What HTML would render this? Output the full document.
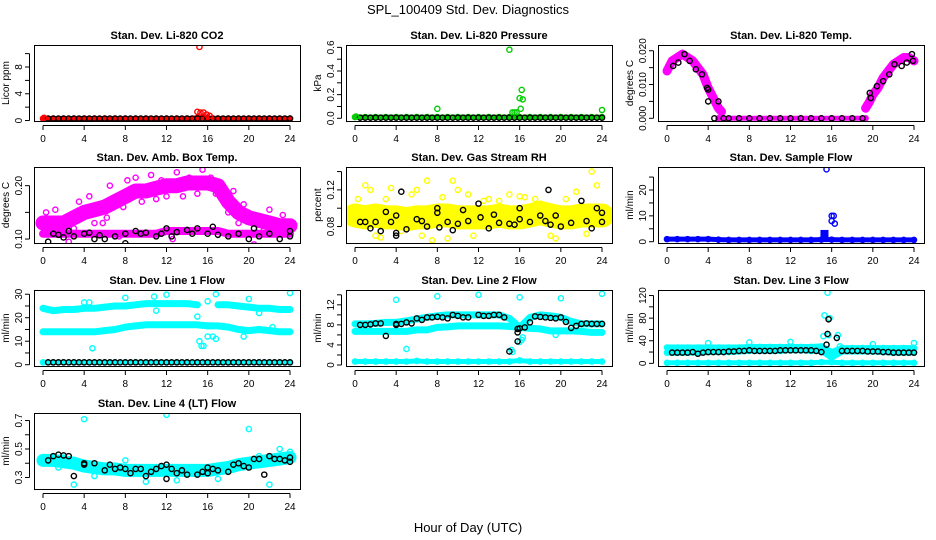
<!DOCTYPE html>
<html><head><meta charset="utf-8"><style>
html,body{margin:0;padding:0;background:#fff;}
svg{display:block;font-family:"Liberation Sans",sans-serif;}
</style></head><body>
<svg id="chart" width="936" height="540" viewBox="0 0 936 540">
<text x="468" y="14" text-anchor="middle" font-size="13">SPL_100409  Std. Dev. Diagnostics</text>
<text x="468" y="532" text-anchor="middle" font-size="13">Hour of Day (UTC)</text>
</svg>
<script>
const HOURS=[0,1,2,3,4,5,6,7,8,9,10,11,12,13,14,15,16,17,18,19,20,21,22,23,24];
const HALF=[0.5,1,1.5,2,2.5,3,3.5,4,4.5,5,5.5,6,6.5,7,7.5,8,8.5,9,9.5,10,10.5,11,11.5,12,12.5,13,13.5,14,14.5,15,15.5,16,16.5,17,17.5,18,18.5,19,19.5,20,20.5,21,21.5,22,22.5,23,23.5,24];
const X_TICKS=[0,4,8,12,16,20,24];

// CO2
const co2Band=[0.3,0.3,0.3,0.3,0.3,0.3,0.3,0.3,0.3,0.3,0.3,0.3,0.3,0.3,0.3,0.4,0.4,0.3,0.3,0.3,0.3,0.3,0.3,0.3,0.3];
const co2Black=[0.3,0.3,0.3,0.3,0.3,0.3,0.3,0.3,0.3,0.3,0.3,0.3,0.3,0.3,0.3,0.3,0.3,0.3,0.3,0.3,0.3,0.3,0.3,0.3,0.3,0.3,0.3,0.3,0.3,0.3,0.3,0.3,0.3,0.3,0.3,0.3,0.3,0.3,0.3,0.3,0.3,0.3,0.3,0.3,0.3,0.3,0.3,0.3];
const co2OutH=[15.2,15.0,15.3,15.6,15.9,16.2,0.1];
const co2OutV=[11,1.3,1.2,1.2,0.9,0.7,0.4];
// Pressure
const presBand=[0.01,0.01,0.01,0.01,0.01,0.01,0.01,0.01,0.01,0.01,0.01,0.01,0.01,0.01,0.01,0.01,0.01,0.01,0.01,0.01,0.01,0.01,0.01,0.01,0.01];
const presBlack=[0.005,0.005,0.005,0.005,0.005,0.005,0.005,0.005,0.005,0.005,0.005,0.005,0.005,0.005,0.005,0.005,0.005,0.005,0.005,0.005,0.005,0.005,0.005,0.005,0.005,0.005,0.005,0.005,0.005,0.005,0.005,0.005,0.005,0.005,0.005,0.005,0.005,0.005,0.005,0.005,0.005,0.005,0.005,0.005,0.005,0.005,0.005,0.005];
const presOutH=[15,8,16.2,16.0,16.3,16.1,15.3,15.5,15.7,24,0.1];
const presOutV=[0.58,0.08,0.24,0.17,0.16,0.08,0.05,0.05,0.05,0.07,0.015];
// Li-820 Temp
const tempAH=[0,0.5,1,1.5,2,2.5,3,3.5,4,4.5,5,5.3];
const tempAV=[0.014,0.017,0.018,0.019,0.018,0.017,0.015,0.013,0.009,0.006,0.003,0.002];
const tempZH=[5,19.3];
const tempZV=[0,0];
const tempBH=[19.3,19.7,20,20.5,21,21.5,22,22.5,23,23.5,24];
const tempBV=[0.003,0.005,0.007,0.009,0.012,0.014,0.016,0.017,0.018,0.018,0.017];
const tempBlackH=[0.6,1.1,1.7,2.2,2.8,3.4,3.9,4.0,4.0,5.0,4.6,5.5,6,7,8,9,10,11,12,13,14,15,16,17,18,19,19.7,19.8,20.4,21,21.6,22.1,22.8,23.3,23.8,23.9];
const tempBlackV=[0.0155,0.0165,0.019,0.017,0.0145,0.013,0.009,0.0085,0.005,0.005,0,0,0,0,0,0,0,0,0,0,0,0,0,0,0,0,0.0075,0.006,0.0095,0.011,0.013,0.016,0.0155,0.0165,0.019,0.017];
// Amb box temp
const ambUpper=[0.13,0.13,0.13,0.14,0.15,0.155,0.16,0.17,0.18,0.19,0.19,0.195,0.2,0.2,0.205,0.205,0.205,0.2,0.17,0.15,0.14,0.135,0.13,0.125,0.125];
const ambLower=[0.11,0.11,0.11,0.11,0.11,0.11,0.11,0.11,0.11,0.11,0.11,0.11,0.115,0.115,0.115,0.115,0.115,0.115,0.11,0.11,0.11,0.11,0.11,0.11,0.11];
const ambScatH=[0.3,1.2,2.5,3.5,4.5,5.8,6.5,8.2,9,10.5,11.5,13,14.2,15.5,16.3,17.2,18.5,19.5,20.5,22,23.3,7.4,12.6,1.8,3,5,6.2,7.8,9.6,11,12,13.6,15,16.8,18,19,21,22.6,23.8];
const ambScatV=[0.15,0.155,0.095,0.17,0.18,0.13,0.2,0.21,0.215,0.22,0.21,0.225,0.215,0.23,0.215,0.245,0.19,0.165,0.09,0.155,0.145,0.105,0.1,0.12,0.12,0.13,0.14,0.16,0.17,0.175,0.18,0.18,0.185,0.185,0.15,0.13,0.12,0.115,0.12];
const ambBlackH=[0.5,1,1.5,2,2.5,3,4,4.5,5,5.5,6,7,8,8,9,9.5,10,11,11.5,12,12.5,13,14,14.5,15,16,16.5,17,18,19,20,20.5,21,22,23,24,24];
const ambBlackV=[0.095,0.11,0.108,0.103,0.115,0.105,0.11,0.112,0.1,0.107,0.1,0.105,0.11,0.092,0.115,0.11,0.112,0.105,0.11,0.12,0.105,0.113,0.117,0.11,0.12,0.11,0.123,0.108,0.105,0.11,0.1,0.12,0.105,0.11,0.1,0.115,0.105];
// RH
const rhBand=[0.092,0.09,0.092,0.09,0.09,0.088,0.09,0.09,0.092,0.092,0.09,0.09,0.09,0.09,0.092,0.09,0.09,0.092,0.095,0.092,0.09,0.09,0.092,0.092,0.092];
const rhScatH=[0.3,1,1.5,2,3,3.5,4.5,5.5,6.5,7,7.5,8.5,9.5,10,11,11.5,13,14,15,16.5,17.5,18,19,20.5,21.5,23,23.5,2.5,6,9,12.5,16,19.5,22.5];
const rhScatV=[0.11,0.125,0.12,0.07,0.11,0.122,0.075,0.115,0.07,0.13,0.065,0.112,0.13,0.12,0.115,0.07,0.11,0.108,0.115,0.112,0.11,0.105,0.07,0.11,0.118,0.14,0.125,0.068,0.12,0.067,0.108,0.113,0.067,0.072];
const rhBlackH=[0.5,1,1.5,2,2.5,3,3.5,4,4,4,4.5,5,6,6.5,7,8,8,8.2,9,9.5,10,10.5,11,12,12.2,13,13.5,14,15,15.5,16,16,17,18,18.5,18.8,19,19.5,20,21,22,22.5,23,23.5,24,24];
const rhBlackV=[0.085,0.085,0.078,0.085,0.075,0.096,0.085,0.092,0.073,0.07,0.118,0.077,0.088,0.086,0.08,0.1,0.095,0.079,0.085,0.076,0.083,0.098,0.086,0.105,0.09,0.078,0.093,0.084,0.083,0.082,0.088,0.1,0.085,0.092,0.086,0.12,0.082,0.092,0.08,0.084,0.108,0.086,0.078,0.1,0.095,0.085];
// Sample flow
const sfBand=[1,1,1,1,1,0.8,0.7,0.7,0.7,0.7,0.7,0.7,0.7,0.7,0.7,0.8,0.8,0.7,0.7,0.7,0.7,0.7,0.7,0.7,0.7];
const sfOutH=[15.5,16.0,16.2,16.0,16.3];
const sfOutV=[28,10,10,8,7];
const sfSquareH=[15.3];
const sfSquareV=[3];
// Line 1
const l1Top=[24,23,23.5,23.5,24,24,24.5,25,25,25.5,26,26,26,26,26,25.5,null,25.5,25.5,25,24.5,24,24,23.5,23.5];
const l1Mid=[14,14,14,14,14,14,14.5,15,16,16.5,17,17,17,17,17,17,16.5,16.5,16,15,14.5,15,14.5,14,14];
const l1Low=[1,1,1,1,1,1,1,1,1,1,1,1,1,1,1,1,1,1,1,1,1,1,1,1,1];
const l1OutH=[15.2,15.4,15.6,16,16.5,16.8,4.8,15,16,16.8,24,12,8,20,4,4.5,10.8,11,19.5,21,22.3];
const l1OutV=[10,8,8,12,12,11,7,20.5,27,30,30.5,29.8,28.5,28,26.5,26.5,29,23,12,22,16];
const l1Black=[1,1,1,1,1,1,1,1,1,1,1,1,1,1,1,1,1,1,1,1,1,1,1,1,1,1,1,1,1,1,1,1,1,1,1,1,1,1,1,1,1,1,1,1,1,1,1,1];
// Line 2
const l2Top=[8.2,8.2,8.3,8.5,8.5,8.8,9.2,9.5,9.8,10,10,10,10,10,10,9.3,7.5,9.5,10,9.8,9.5,8.7,8.2,8.2,8.2];
const l2Mid=[6.7,6.7,6.7,6.7,6.7,6.7,7,7,7.5,7.6,7.8,7.8,7.8,7.8,7.8,7.7,7.5,7.3,7.2,6.8,6.8,6.8,6.7,6.5,6.5];
const l2Low=[0.7,0.7,0.7,0.7,0.7,0.7,0.8,0.7,0.7,0.7,0.7,0.7,0.7,0.7,0.7,0.7,0.9,0.7,0.7,0.7,0.7,0.7,0.7,0.7,0.7];
const l2OutH=[4,8,12,16,20,24,5,15.2,15.3,16,16.3,16.2,19.5,15.5];
const l2OutV=[13,13.7,14,13.5,13.3,14.2,3.2,3,2.6,4.6,5.5,5,6,8.5];
const l2BlackH=[0.5,1,1.5,2,2.5,3,4,4,4.5,5,5.5,6,6.5,7,7.5,8,8.5,9,9.5,10,10.5,11,12,12.5,13,13.5,14,14.5,15,15.8,15.8,15.8,16,16.5,17,17.5,18,18.5,19,19.5,20,20.5,21,21.5,22,22.5,23,23.5,24];
const l2BlackV=[8,8,8.1,8.3,8.3,5.8,8,8.2,8.2,8.5,8.3,9.3,9,9.5,9.5,9.6,9.5,9.3,10,9.8,9.5,9.5,10,9.8,9.8,10,10,9.5,2.7,6.5,7.2,4.7,7.3,7.5,8.5,9.7,9.6,9.5,9.4,9.3,9.5,8.6,7.4,7.8,8.2,8.3,8.2,8.2,8.2];
// Line 3
const l3Top=[28,28,28,28,28,28,28,28,29,29,29,29,29,29,29,30,20,27,27,27,27,27,27,27,27];
const l3Mid=[19,19,19,19,20,20,20,21,22,22,22,22,23,23,22,22,10,21,21,21,21,20,19,19,19];
const l3Low=[1,1,1,1,1,1,1,1,1,1,1,1,1,1,1,2,2,1,1,1,1,1,1,1,1];
const l3OutH=[15.6,15.3,15.8,15.7,15.2,16.5,16.6,15.5,4,8,12,20,24,16.8];
const l3OutV=[125,85,80,50,48,45,50,33,36,37,38,34,36,30];
const l3BlackH=[0.5,1,1.5,2,2.5,3,3.5,4,4.5,5,5.5,6,6.5,7,7.5,8,8.5,9,9.5,10,10.5,11,11.5,12,12.5,13,13.5,14,14.5,15,15.5,15.6,15.7,16.5,17,17.5,18,18.5,19,19.5,20,20.5,21,21.5,22,22.5,23,23.5,24];
const l3BlackV=[19,19,19,19,20,17,19,20,20,20,20,21,21,22,22,23,22,22,22,22,22,23,23,23,23,23,23,23,22,20,33,52,78,45,22,22,22,22,22,21,21,21,20,20,19,19,19,19,19];
// Line 4
const l4Band=[0.42,0.42,0.41,0.4,0.38,0.37,0.36,0.36,0.35,0.35,0.35,0.35,0.35,0.35,0.35,0.35,0.35,0.36,0.37,0.39,0.4,0.41,0.42,0.43,0.44];
const l4OutH=[4,12,20,3,22,1.5,5,10,13,17,21,23,24,8,2];
const l4OutV=[0.71,0.74,0.64,0.25,0.25,0.37,0.31,0.27,0.28,0.29,0.45,0.5,0.48,0.42,0.44];
const l4BlackH=[0.5,1,1.5,2,2.5,3,4,4,5,6,6.5,7,7.5,8,8.5,9,9.5,10,10.5,11,11.5,12,12,12.5,13,13.5,14,15,15.5,16,16,16.5,17,18,18.5,19,19.5,20,20.5,21,21.5,22,22.5,23,23.5,24,24];
const l4BlackV=[0.42,0.45,0.46,0.455,0.45,0.31,0.4,0.39,0.4,0.35,0.39,0.36,0.37,0.36,0.33,0.36,0.36,0.31,0.34,0.36,0.38,0.39,0.29,0.36,0.33,0.35,0.32,0.32,0.34,0.33,0.37,0.36,0.35,0.34,0.39,0.4,0.38,0.37,0.43,0.43,0.32,0.45,0.43,0.43,0.42,0.44,0.41];

const svg=document.getElementById('chart');
const NS='http://www.w3.org/2000/svg';
const COLS=[34,346,658], ROWS=[45,167,290,413], BW=266, BH=76;
function mk(tag,attrs,parent){const e=document.createElementNS(NS,tag);for(const k in attrs)e.setAttribute(k,attrs[k]);(parent||svg).appendChild(e);return e;}

const panels=[
 {key:'co2',col:0,row:0,title:'Stan. Dev. Li-820 CO2',ylab:'Licor ppm',dom:[-0.07,11.29],ticks:[0,2,4,6,8,10],labels:[0,4,8],fmt:v=>String(v),
  series:[{t:'band',h:HOURS,v:co2Band,c:'#ff0000',w:5},{t:'pts',h:HALF,v:co2Black,c:'#000'},{t:'pts',h:co2OutH,v:co2OutV,c:'#ff0000'}]},
 {key:'pressure',col:1,row:0,title:'Stan. Dev. Li-820 Pressure',ylab:'kPa',dom:[-0.023,0.62],ticks:[0,0.1,0.2,0.3,0.4,0.5,0.6],labels:[0,0.2,0.4,0.6],fmt:v=>v.toFixed(1),
  series:[{t:'band',h:HOURS,v:presBand,c:'#00cd00',w:5},{t:'pts',h:HALF,v:presBlack,c:'#000'},{t:'pts',h:presOutH,v:presOutV,c:'#00cd00'}]},
 {key:'li820-temp',col:2,row:0,title:'Stan. Dev. Li-820 Temp.',ylab:'degrees C',dom:[-0.0008,0.0217],ticks:[0,0.005,0.01,0.015,0.02],labels:[0,0.01,0.02],fmt:v=>v.toFixed(3),
  series:[{t:'band',h:tempAH,v:tempAV,c:'#ff00ff',w:9},{t:'band',h:tempZH,v:tempZV,c:'#ff00ff',w:5},{t:'band',h:tempBH,v:tempBV,c:'#ff00ff',w:9},{t:'pts',h:tempBlackH,v:tempBlackV,c:'#000'}]},
 {key:'amb-box-temp',col:0,row:1,title:'Stan. Dev. Amb. Box Temp.',ylab:'degrees C',dom:[0.0926,0.235],ticks:[0.1,0.15,0.2],labels:[0.1,0.2],fmt:v=>v.toFixed(2),
  series:[{t:'band',h:HOURS,v:ambUpper,c:'#ff00ff',w:15},{t:'band',h:HOURS,v:ambLower,c:'#ff00ff',w:8},{t:'pts',h:ambScatH,v:ambScatV,c:'#ff00ff'},{t:'pts',h:ambBlackH,v:ambBlackV,c:'#000'}]},
 {key:'gas-stream-rh',col:1,row:1,title:'Stan. Dev. Gas Stream RH',ylab:'percent',dom:[0.062,0.145],ticks:[0.08,0.1,0.12,0.14],labels:[0.08,0.12],fmt:v=>v.toFixed(2),
  series:[{t:'band',h:HOURS,v:rhBand,c:'#ffff00',w:24},{t:'pts',h:rhScatH,v:rhScatV,c:'#ffff00'},{t:'pts',h:rhBlackH,v:rhBlackV,c:'#000'}]},
 {key:'sample-flow',col:2,row:1,title:'Stan. Dev. Sample Flow',ylab:'ml/min',dom:[-0.5,28.9],ticks:[0,5,10,15,20,25],labels:[0,10,20],fmt:v=>String(v),
  series:[{t:'band',h:HOURS,v:sfBand,c:'#0000ff',w:5},{t:'pts',h:sfOutH,v:sfOutV,c:'#0000ff'},{t:'sq',h:sfSquareH,v:sfSquareV,c:'#0000ff'}]},
 {key:'line1-flow',col:0,row:2,title:'Stan. Dev. Line 1 Flow',ylab:'ml/min',dom:[-0.55,31.8],ticks:[0,5,10,15,20,25,30],labels:[0,10,20,30],fmt:v=>String(v),
  series:[{t:'band',h:HOURS,v:l1Top,c:'#00ffff',w:7},{t:'band',h:HOURS,v:l1Mid,c:'#00ffff',w:7},{t:'band',h:HOURS,v:l1Low,c:'#00ffff',w:4},{t:'pts',h:l1OutH,v:l1OutV,c:'#00ffff'},{t:'pts',h:HALF,v:l1Black,c:'#000'}]},
 {key:'line2-flow',col:1,row:2,title:'Stan. Dev. Line 2 Flow',ylab:'ml/min',dom:[-0.2,14.96],ticks:[0,2,4,6,8,10,12,14],labels:[0,4,8,12],fmt:v=>String(v),
  series:[{t:'band',h:HOURS,v:l2Top,c:'#00ffff',w:7},{t:'band',h:HOURS,v:l2Mid,c:'#00ffff',w:7},{t:'band',h:HOURS,v:l2Low,c:'#00ffff',w:5},{t:'pts',h:l2OutH,v:l2OutV,c:'#00ffff'},{t:'pts',h:l2BlackH,v:l2BlackV,c:'#000'}]},
 {key:'line3-flow',col:2,row:2,title:'Stan. Dev. Line 3 Flow',ylab:'ml/min',dom:[-4.7,129.8],ticks:[0,20,40,60,80,100,120],labels:[0,40,80,120],fmt:v=>String(v),
  series:[{t:'band',h:HOURS,v:l3Top,c:'#00ffff',w:6},{t:'band',h:HOURS,v:l3Mid,c:'#00ffff',w:6},{t:'band',h:HOURS,v:l3Low,c:'#00ffff',w:5},{t:'pts',h:l3OutH,v:l3OutV,c:'#00ffff'},{t:'pts',h:l3BlackH,v:l3BlackV,c:'#000'}]},
 {key:'line4-flow',col:0,row:3,title:'Stan. Dev. Line 4 (LT) Flow',ylab:'ml/min',dom:[0.219,0.753],ticks:[0.3,0.4,0.5,0.6,0.7],labels:[0.3,0.5,0.7],fmt:v=>v.toFixed(1),
  series:[{t:'band',h:HOURS,v:l4Band,c:'#00ffff',w:13},{t:'pts',h:l4OutH,v:l4OutV,c:'#00ffff'},{t:'pts',h:l4BlackH,v:l4BlackV,c:'#000'}]}
];

panels.forEach(p=>{
  const L=COLS[p.col], T=ROWS[p.row], B=T+BH, R=L+BW;
  const xs=h=>L+9+h*(247/24);
  const ys=v=>B-(v-p.dom[0])/(p.dom[1]-p.dom[0])*BH;
  const g=mk('g',{});
  
  
  const cp=mk('clipPath',{id:'cp-'+p.key},g);
  mk('rect',{x:L,y:T,width:BW,height:BH},cp);
  const t=mk('text',{x:L+BW/2,y:T-6,'text-anchor':'middle','font-size':'11','font-weight':'bold'},g);
  t.textContent=p.title;
  
  
  const plot=mk('g',{'clip-path':'url(#cp-'+p.key+')'},g);
  
  
  p.series.forEach((s,si)=>{
    if(s.t==='band'){
      let segs=[],cur=[];
      s.h.forEach((h,i)=>{const v=s.v[i];if(v===null){if(cur.length)segs.push(cur);cur=[];}else cur.push(xs(h).toFixed(1)+','+ys(v).toFixed(1));});
      if(cur.length)segs.push(cur);
      segs.forEach(sg=>{
        const pl=mk('polyline',{points:sg.join(' '),fill:'none',stroke:s.c,'stroke-width':s.w,'stroke-linejoin':'round','stroke-linecap':'round'},plot);
        
        
      });
      s.h.forEach((h,i)=>{const v=s.v[i];if(v===null)return;
        const c=mk('circle',{cx:xs(h),cy:ys(v),r:2.6,fill:'none',stroke:s.c,'stroke-width':1.4},plot);
        
        
      });
    } else if(s.t==='pts'){
      s.h.forEach((h,i)=>{
        const c=mk('circle',{cx:xs(h),cy:ys(s.v[i]),r:2.6,fill:'none',stroke:s.c,'stroke-width':1.4},plot);
        
        
      });
    } else {
      s.h.forEach((h,i)=>{
        const c=mk('rect',{x:xs(h)-4,y:ys(s.v[i])-4,width:8,height:8,fill:s.c},plot);
        
        
      });
    }
  });
  const box=mk('rect',{x:L+0.5,y:T+0.5,width:BW,height:BH,fill:'none',stroke:'#000','stroke-width':1},g);
  
  
  const xa=mk('g',{'font-size':'10'},g);
  
  
  mk('line',{x1:xs(0),x2:xs(24),y1:B+4.5,y2:B+4.5,stroke:'#000'},xa);
  X_TICKS.forEach(h=>{
    mk('line',{x1:xs(h),x2:xs(h),y1:B+4.5,y2:B+9,stroke:'#000'},xa);
    const tl=mk('text',{x:xs(h),y:B+21,'text-anchor':'middle'},xa);
    tl.textContent=h;
    
    
  });
  const ya=mk('g',{'font-size':'10'},g);
  
  
  const tk=p.ticks;
  mk('line',{x1:L-4.5,x2:L-4.5,y1:ys(tk[0]),y2:ys(tk[tk.length-1]),stroke:'#000'},ya);
  tk.forEach(v=>{mk('line',{x1:L-4.5,x2:L-9,y1:ys(v),y2:ys(v),stroke:'#000'},ya);});
  p.labels.forEach(v=>{
    const y=ys(v);
    const tl=mk('text',{x:L-12,y:y,'text-anchor':'middle',transform:'rotate(-90 '+(L-12)+' '+y+')'},ya);
    tl.textContent=p.fmt(v);
    
    
  });
  const yl=mk('text',{x:L-25,y:T+BH/2,'text-anchor':'middle','font-size':'10',transform:'rotate(-90 '+(L-25)+' '+(T+BH/2)+')'},g);
  yl.textContent=p.ylab;
  
  
});
</script>
</body></html>
